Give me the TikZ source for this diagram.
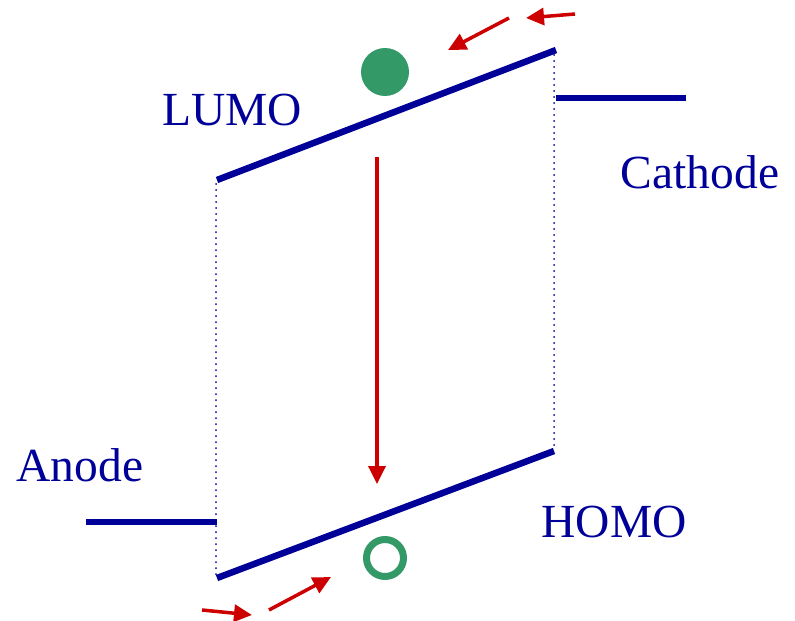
\documentclass[tikz,border=0pt]{standalone}
\usepackage{fontspec}
\setmainfont{Liberation Serif}
\usetikzlibrary{arrows.meta}
\definecolor{lvlblue}{RGB}{0,0,153}
\definecolor{arrred}{RGB}{204,0,0}
\definecolor{carrier}{RGB}{51,153,102}
\tikzset{
  level/.style={draw=lvlblue, line width=6.5pt},
  gap/.style={draw=lvlblue, line width=2pt, line cap=round, dash pattern=on 0pt off 6pt},
  flow/.style={draw=arrred, line width=3.5pt, -{Triangle[length=18pt,width=17pt]}},
  lbl/.style={text=lvlblue, font=\fontsize{47.5}{52}\selectfont, inner sep=0pt},
}
\begin{document}
\begin{tikzpicture}[x=1pt,y=-1pt]
\useasboundingbox (0,0) rectangle (795,621);
% coordinates
\coordinate (L1) at (217,180);
\coordinate (L2) at (556,50);
\coordinate (H1) at (217,578);
\coordinate (H2) at (554,451);
\coordinate (C1) at (556,98);
\coordinate (C2) at (686,98);
\coordinate (A1) at (86,522);
\coordinate (A2) at (217,522);
\coordinate (V1) at (377,157);
\coordinate (V2) at (377,484);
\coordinate (t1s) at (575,14);
\coordinate (t1e) at (526,18);
\coordinate (t2s) at (509,18);
\coordinate (t2e) at (448,50);
\coordinate (b1s) at (202,610);
\coordinate (b1e) at (252,615);
\coordinate (b2s) at (269,610);
\coordinate (b2e) at (331,577);
% gap dotted
\draw[gap] (216,184) -- (216,576);
\draw[gap] (554,55) -- (554,449);
% levels
\draw[level] (L1) -- (L2);
\draw[level] (H1) -- (H2);
\draw[level] (C1) -- (C2);
\draw[level] (A1) -- (A2);
% carriers
\node[circle, fill=carrier, minimum size=48pt, inner sep=0pt] (el) at (385,72) {};
\node[circle, draw=carrier, line width=7pt, minimum size=37pt, inner sep=0pt] (ho) at (385,558) {};
% arrows
\draw[flow] (V1) -- (V2);
\draw[flow] (t1s) -- (t1e);
\draw[flow] (t2s) -- (t2e);
\draw[flow] (b1s) -- (b1e);
\draw[flow] (b2s) -- (b2e);
% labels
\node[lbl] (lumo) at (232,110) {LUMO};
\node[lbl] (cath) at (700,172) {Cathode};
\node[lbl] (anode) at (80,465) {Anode};
\node[lbl] (homo) at (614,522) {HOMO};
\end{tikzpicture}
\end{document}
